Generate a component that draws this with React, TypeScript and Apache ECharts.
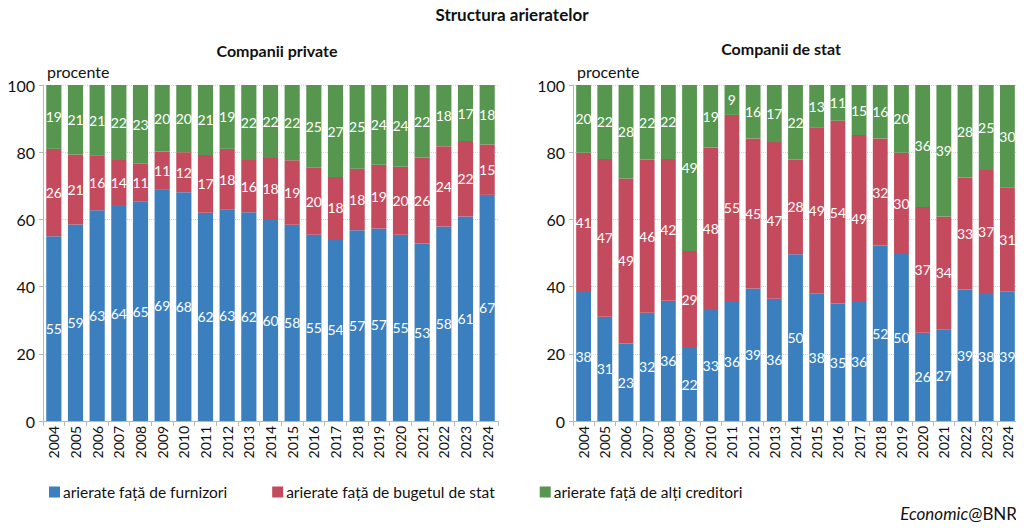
import { useEffect, useRef } from 'react'
import * as echarts from 'echarts'

const years = [
  '2004', '2005', '2006', '2007', '2008', '2009', '2010', '2011', '2012', '2013', '2014',
  '2015', '2016', '2017', '2018', '2019', '2020', '2021', '2022', '2023', '2024'
]

const seriesNames = [
  'arierate față de furnizori',
  'arierate față de bugetul de stat',
  'arierate față de alți creditori'
]

// Companii private
const privFurnizori = [55.0, 58.5, 62.7, 64.0, 65.4, 68.8, 68.1, 62.0, 63.0, 62.1, 60.1, 58.4, 55.4, 54.2, 56.8, 57.3, 55.4, 52.8, 57.9, 60.9, 67.3]
const privBuget = [26.0, 20.8, 16.4, 13.7, 11.3, 11.4, 11.9, 17.2, 18.0, 15.6, 18.2, 19.2, 20.0, 18.4, 18.3, 19.0, 20.3, 25.6, 23.9, 22.4, 15.0]
const privAlti = [19.0, 20.7, 20.9, 22.3, 23.3, 19.8, 20.0, 20.8, 19.0, 22.3, 21.7, 22.4, 24.6, 27.4, 24.9, 23.7, 24.3, 21.6, 18.2, 16.7, 17.7]

// Companii de stat
const statFurnizori = [38.4, 31.0, 23.1, 32.2, 35.8, 21.7, 33.3, 35.7, 39.4, 36.4, 49.6, 38.0, 35.0, 35.7, 52.2, 49.7, 26.3, 27.3, 39.1, 38.1, 38.5]
const statBuget = [41.4, 47.0, 49.1, 45.6, 42.2, 28.9, 48.1, 55.4, 44.7, 46.6, 28.2, 49.4, 54.4, 49.4, 31.9, 30.1, 37.4, 33.6, 33.4, 36.6, 31.1]
const statAlti = [20.2, 22.0, 27.8, 22.2, 22.0, 49.4, 18.6, 8.9, 15.9, 17.0, 22.2, 12.6, 10.6, 14.9, 15.9, 20.2, 36.3, 39.1, 27.6, 25.3, 30.4]

const yTicks = [0, 20, 40, 60, 80, 100]

const colors = ['#3b7fbe', '#c44b5e', '#57964f']
const font = 'Lato, "Liberation Sans", sans-serif'

export default function App() {
  const chartRef = useRef<HTMLDivElement>(null)

  useEffect(() => {
    if (!chartRef.current) return
    const chart = echarts.init(chartRef.current, null, { renderer: 'svg' })

    const makeX = (gridIndex: number) => ({
      type: 'category' as const,
      gridIndex,
      data: years,
      axisLine: { lineStyle: { color: '#b8b8b8' } },
      axisTick: { show: true, length: 5, lineStyle: { color: '#b8b8b8' } },
      axisLabel: { rotate: 90, fontSize: 14, color: '#111', margin: 5, fontFamily: font }
    })

    const makeY = (gridIndex: number) => ({
      type: 'value' as const,
      gridIndex,
      min: yTicks[0],
      max: yTicks[yTicks.length - 1],
      interval: 20,
      name: 'procente',
      nameLocation: 'end' as const,
      nameGap: 6,
      nameTextStyle: { align: 'left' as const, fontSize: 16, color: '#111', fontFamily: font, padding: [0, 0, 0, 4] },
      axisLine: { show: true, lineStyle: { color: '#b8b8b8' } },
      axisTick: { show: true, length: 4, lineStyle: { color: '#b8b8b8' } },
      axisLabel: { fontSize: 16, color: '#111', margin: 8, fontFamily: font },
      splitLine: { lineStyle: { color: '#d4d4d4', type: 'dotted' as const } }
    })

    const groups = [
      [privFurnizori, privBuget, privAlti],
      [statFurnizori, statBuget, statAlti]
    ]

    const series: any[] = []
    groups.forEach((group, g) => {
      group.forEach((values, i) => {
        series.push({
          name: seriesNames[i],
          type: 'bar',
          stack: 'total' + g,
          xAxisIndex: g,
          yAxisIndex: g,
          data: values,
          barWidth: '70%',
          itemStyle: { color: colors[i] },
          label: {
            show: true,
            position: 'inside',
            color: '#fff',
            fontSize: 14,
            fontFamily: font,
            formatter: (p: any) => String(Math.round(p.value))
          }
        })
      })
    })

    const option: echarts.EChartsOption = {
      animation: false,
      textStyle: { fontFamily: font },
      title: [
        {
          text: 'Structura arieratelor',
          left: 'center',
          top: 1,
          textStyle: { fontSize: 17, fontWeight: 'bold', color: '#111', fontFamily: font }
        },
        {
          text: 'Companii private',
          left: 272,
          top: 37,
          textAlign: 'center',
          textStyle: { fontSize: 16, fontWeight: 'bold', color: '#111', fontFamily: font }
        },
        {
          text: 'Companii de stat',
          left: 776,
          top: 35,
          textAlign: 'center',
          textStyle: { fontSize: 16, fontWeight: 'bold', color: '#111', fontFamily: font }
        },
        {
          text: '{i|Economic}@BNR',
          right: 2,
          bottom: 5,
          textStyle: {
            fontSize: 17,
            fontWeight: 'normal',
            color: '#111',
            fontFamily: font,
            rich: {
              i: { fontSize: 17, fontStyle: 'italic', fontWeight: 'normal', color: '#111', fontFamily: font }
            }
          }
        }
      ],
      legend: {
        data: seriesNames,
        left: 44,
        top: 479,
        itemGap: 45,
        itemWidth: 11,
        itemHeight: 11,
        icon: 'rect',
        textStyle: { fontSize: 15.5, color: '#111', fontFamily: font, padding: [0, 0, 0, -2] }
      },
      grid: [
        { left: 43, right: 526, top: 85, bottom: 111 },
        { left: 573, right: 6, top: 85, bottom: 111 }
      ],
      xAxis: [makeX(0), makeX(1)],
      yAxis: [makeY(0), makeY(1)],
      series
    }

    chart.setOption(option)
    return () => {
      chart.dispose()
    }
  }, [])

  return <div ref={chartRef} style={{ width: '1024px', height: '532px', margin: '-8px' }} />
}
